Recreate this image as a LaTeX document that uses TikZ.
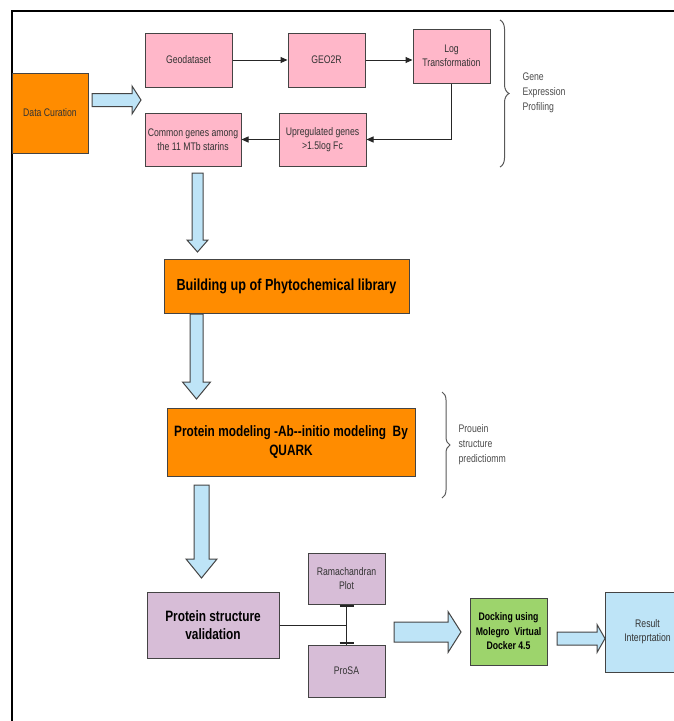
\documentclass[tikz,border=0pt]{standalone}
\usepackage{fontspec}
\setmainfont{Liberation Sans}[FakeStretch=0.79]
\usetikzlibrary{decorations.pathreplacing,arrows.meta}
\definecolor{orangeF}{HTML}{FF8C00}
\definecolor{pinkF}{HTML}{FFB7C9}
\definecolor{mauveF}{HTML}{D7BDD7}
\definecolor{greenF}{HTML}{9DD46C}
\definecolor{blueF}{HTML}{BEE4F7}
\definecolor{boxline}{HTML}{444444}
\definecolor{txt}{HTML}{333333}
\newcommand\barrowR[6]{% x1, xhead, tip, yc, bodyhalf, headhalf
  \draw[blockarrow] (#1,{#4-#5}) -- (#2,{#4-#5}) -- (#2,{#4-#6}) -- (#3,#4)
    -- (#2,{#4+#6}) -- (#2,{#4+#5}) -- (#1,{#4+#5}) -- cycle;}
\newcommand\barrowD[6]{% xc, y1, yhead, tip, bodyhalf, headhalf
  \draw[blockarrow] ({#1-#5},#2) -- ({#1-#5},#3) -- ({#1-#6},#3) -- (#1,#4)
    -- ({#1+#6},#3) -- ({#1+#5},#3) -- ({#1+#5},#2) -- cycle;}
\begin{document}
\begin{tikzpicture}[x=1pt,y=-1pt,
  box/.style={draw=boxline, line width=1pt, inner sep=2pt, align=center, text=txt,
    font=\fontsize{11}{14}\selectfont},
  bigbox/.style={box, text=black, font=\bfseries\fontsize{15}{18.5}\selectfont},
  pinkbox/.style={box, fill=pinkF},
  conn/.style={draw=black!85, line width=1pt},
  arr/.style={conn, -{Triangle[length=7pt,width=6pt]}},
  blockarrow/.style={draw=boxline, line width=1pt, fill=blueF, line join=miter},
  bracestyle/.style={draw=black!65, line width=1pt, decorate},
  side/.style={anchor=west, align=left, text=black!70, font=\fontsize{11}{15}\selectfont}]
\useasboundingbox (0,0) rectangle (673,721);
\fill[white] (0,0) rectangle (673,721);
% frame
\draw[line width=2pt] (12,722) -- (12,11) -- (674,11);

% top section
\node[box, fill=orangeF, minimum width=76, minimum height=80] (dc) at (50,113) {Data Curation};
\node[pinkbox, minimum width=87, minimum height=54] (geo) at (188.5,60) {Geodataset};
\node[pinkbox, minimum width=77, minimum height=54] (geo2r) at (326.5,60) {GEO2R};
\node[pinkbox, minimum width=77, minimum height=54] (log) at (451.5,56) {Log\\Transformation};
\node[pinkbox, minimum width=87, minimum height=53] (upreg) at (322.5,139.5) {Upregulated genes\\>1.5log Fc};
\node[pinkbox, minimum width=96, minimum height=53] (common) at (193,139.5) {Common genes among\\the 11 MTb starins};

\draw[arr] (geo.east) -- (geo2r.west);
\draw[arr] (geo2r.east) -- (geo2r.east -| log.west);
\draw[arr] (log.south) |- (upreg.east);
\draw[arr] (upreg.west) -- (common.east);

\draw[bracestyle, decoration={brace, amplitude=9pt}] (500,20) -- (500,167) coordinate[midway] (b1);
\node[side] (gep) at (519,93) {Gene\\Expression\\Profiling};

% middle
\node[bigbox, fill=orangeF, font=\bfseries\fontsize{16}{19}\selectfont, minimum width=245, minimum height=54] (build) at (286.5,286) {Building up of Phytochemical library};
\node[bigbox, fill=orangeF, minimum width=248, minimum height=68] (pm) at (291,442) {Protein modeling -Ab-{}-initio modeling\ \ By\\QUARK};
\draw[bracestyle, decoration={brace, amplitude=8pt}] (442,392) -- (442,498) coordinate[midway] (b2);
\node[side] (psp) at (455,445) {Prouein\\structure\\predictiomm};

% bottom
\node[bigbox, fill=mauveF, minimum width=132, minimum height=66] (psv) at (213,625) {Protein structure\\validation};
\node[box, fill=mauveF, minimum width=77, minimum height=51] (rama) at (346.5,578.5) {Ramachandran\\Plot};
\node[box, fill=mauveF, minimum width=77, minimum height=52] (prosa) at (346.5,671) {ProSA};
\node[box, fill=greenF, text=black, font=\bfseries\fontsize{11}{14.5}\selectfont, minimum width=77, minimum height=67] (dock) at (508.5,631.5) {Docking using\\Molegro\ \ Virtual\\Docker 4.5};
\node[box, fill=blueF, minimum width=85, minimum height=80] (result) at (647.5,632) {Result\\Interprtation};

\draw[conn] (psv.east) -- (psv.east -| rama.south);
\draw[conn] (rama.south) -- (prosa.north);
\draw[line width=2.5pt, black!85] ([shift={(-7,1.5)}]rama.south) -- ([shift={(7,1.5)}]rama.south);
\draw[line width=2.5pt, black!85] ([shift={(-7,-1.5)}]prosa.north) -- ([shift={(7,-1.5)}]prosa.north);

% block arrows
\barrowR{92}{132}{141}{100}{6.5}{14}
\barrowD{197.5}{173}{240}{252}{5.5}{10.5}
\barrowD{196.5}{314}{382}{399}{6.5}{14}
\barrowD{201.5}{485}{559}{578}{7.5}{15.5}
\barrowR{394}{448}{461}{632}{10}{20.5}
\barrowR{557}{597}{605}{638.5}{6.5}{14}
\end{tikzpicture}
\end{document}
